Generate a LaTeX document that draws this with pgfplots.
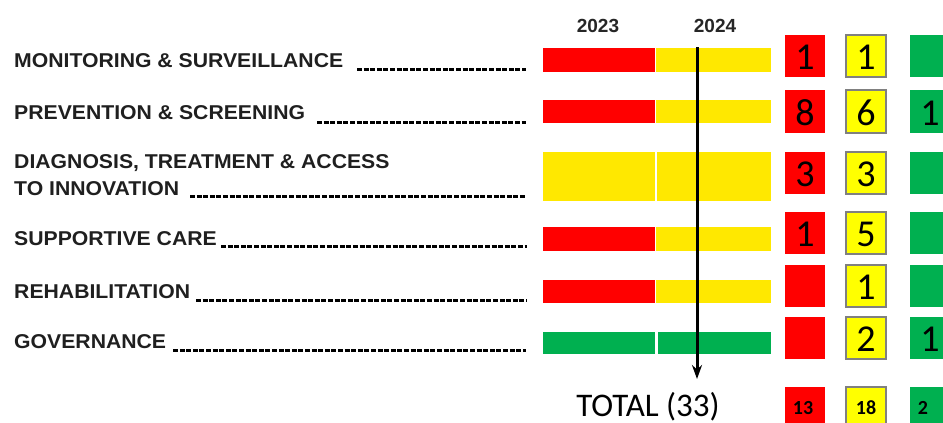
\documentclass[border=0pt]{standalone}
\usepackage{pgfplots}
\pgfplotsset{compat=1.18}
\usetikzlibrary{arrows.meta}
\usepackage{fontspec}
\setmainfont{Liberation Sans}
\newfontfamily\calib{Carlito}
\definecolor{cred}{HTML}{FF0000}
\definecolor{cbar}{HTML}{FFE800}
\definecolor{cyel}{HTML}{FFFF00}
\definecolor{cgrn}{HTML}{00B050}
\newcommand{\lab}[1]{\scalebox{1.06}[1]{#1}}
\begin{document}
\begin{tikzpicture}
\begin{axis}[name=ax, scale only axis, width=943pt, height=423pt,
  xmin=0, xmax=943, ymin=0, ymax=423, y dir=reverse, hide axis, clip=false]
% headers
\node[font=\bfseries\fontsize{19}{19}\selectfont, text=black!85] at (axis cs:598,26) {2023};
\node[font=\bfseries\fontsize{19}{19}\selectfont, text=black!85] at (axis cs:715,26) {2024};
% labels
\tikzset{lb/.style={anchor=base west, inner sep=0pt, font=\bfseries\fontsize{20}{20}\selectfont, text=black!88}}
\node[lb] at (axis cs:14,67) {\lab{MONITORING \& SURVEILLANCE}};
\node[lb] at (axis cs:14,119) {\lab{PREVENTION \& SCREENING}};
\node[lb] at (axis cs:14,168) {\lab{DIAGNOSIS, TREATMENT \& ACCESS}};
\node[lb] at (axis cs:14,195) {\lab{TO INNOVATION}};
\node[lb] at (axis cs:14,245) {\lab{SUPPORTIVE CARE}};
\node[lb] at (axis cs:14,298) {\lab{REHABILITATION}};
\node[lb] at (axis cs:14,348) {\lab{GOVERNANCE}};
% leaders
\pgfplotsset{leader/.style={black, line width=3pt, dash pattern=on 5pt off 1.6pt}}
\addplot[leader] coordinates {(357,69) (526,69)};
\addplot[leader] coordinates {(317,122) (526,122)};
\addplot[leader] coordinates {(190,196) (526,196)};
\addplot[leader] coordinates {(221,246) (527,246)};
\addplot[leader] coordinates {(196,300) (527,300)};
\addplot[leader] coordinates {(173,350) (526,350)};
% bars 2023 / 2024
\addplot[fill=cred, draw=none] coordinates {(543,48) (655,48) (655,72) (543,72)} -- cycle;
\addplot[fill=cbar, draw=none] coordinates {(656,48) (771,48) (771,72) (656,72)} -- cycle;
\addplot[fill=cred, draw=none] coordinates {(543,100) (655,100) (655,123) (543,123)} -- cycle;
\addplot[fill=cbar, draw=none] coordinates {(656,100) (771,100) (771,123) (656,123)} -- cycle;
\addplot[fill=cbar, draw=none] coordinates {(543,152) (655,152) (655,201) (543,201)} -- cycle;
\addplot[fill=cbar, draw=none] coordinates {(657,152) (771,152) (771,201) (657,201)} -- cycle;
\addplot[fill=cred, draw=none] coordinates {(543,227) (655,227) (655,251) (543,251)} -- cycle;
\addplot[fill=cbar, draw=none] coordinates {(656,227) (771,227) (771,251) (656,251)} -- cycle;
\addplot[fill=cred, draw=none] coordinates {(543,280) (655,280) (655,303) (543,303)} -- cycle;
\addplot[fill=cbar, draw=none] coordinates {(656,280) (771,280) (771,303) (656,303)} -- cycle;
\addplot[fill=cgrn, draw=none] coordinates {(543,332) (655,332) (655,354) (543,354)} -- cycle;
\addplot[fill=cgrn, draw=none] coordinates {(658,332) (771,332) (771,354) (658,354)} -- cycle;
% arrow
\addplot[black, line width=3pt, -{Stealth[length=14pt, width=10pt]}] coordinates {(697,47) (697,379)};
\node[font=\calib\fontsize{33}{33}\selectfont, anchor=base] at (axis cs:648,416) {TOTAL (33)};
% squares: red column
\addplot[fill=cred, draw=none] coordinates {(785,35) (825,35) (825,77) (785,77)} -- cycle;
\addplot[fill=cred, draw=none] coordinates {(785,90) (825,90) (825,133) (785,133)} -- cycle;
\addplot[fill=cred, draw=none] coordinates {(785,152) (825,152) (825,194) (785,194)} -- cycle;
\addplot[fill=cred, draw=none] coordinates {(785,212) (825,212) (825,254) (785,254)} -- cycle;
\addplot[fill=cred, draw=none] coordinates {(785,265) (825,265) (825,307) (785,307)} -- cycle;
\addplot[fill=cred, draw=none] coordinates {(785,317) (825,317) (825,359) (785,359)} -- cycle;
\addplot[fill=cred, draw=none] coordinates {(785,387) (825,387) (825,428) (785,428)} -- cycle;
% yellow column
\pgfplotsset{ysq/.style={fill=cyel, draw=black!50, line width=1.2pt}}
\addplot[ysq] coordinates {(846,35) (886,35) (886,77) (846,77)} -- cycle;
\addplot[ysq] coordinates {(846,90) (886,90) (886,133) (846,133)} -- cycle;
\addplot[ysq] coordinates {(846,152) (886,152) (886,194) (846,194)} -- cycle;
\addplot[ysq] coordinates {(846,212) (886,212) (886,254) (846,254)} -- cycle;
\addplot[ysq] coordinates {(846,265) (886,265) (886,307) (846,307)} -- cycle;
\addplot[ysq] coordinates {(846,317) (886,317) (886,359) (846,359)} -- cycle;
\addplot[ysq] coordinates {(846,387) (886,387) (886,428) (846,428)} -- cycle;
% green column
\addplot[fill=cgrn, draw=none] coordinates {(910,35) (952,35) (952,77) (910,77)} -- cycle;
\addplot[fill=cgrn, draw=none] coordinates {(910,90) (952,90) (952,133) (910,133)} -- cycle;
\addplot[fill=cgrn, draw=none] coordinates {(910,152) (952,152) (952,194) (910,194)} -- cycle;
\addplot[fill=cgrn, draw=none] coordinates {(910,212) (952,212) (952,254) (910,254)} -- cycle;
\addplot[fill=cgrn, draw=none] coordinates {(910,265) (952,265) (952,307) (910,307)} -- cycle;
\addplot[fill=cgrn, draw=none] coordinates {(910,317) (952,317) (952,359) (910,359)} -- cycle;
\addplot[fill=cgrn, draw=none] coordinates {(910,387) (952,387) (952,428) (910,428)} -- cycle;
% numbers
\tikzset{num/.style={font=\calib\fontsize{38}{38}\selectfont, anchor=base}}
\node[num] at (axis cs:805,69) {1};
\node[num] at (axis cs:866,69) {1};
\node[num] at (axis cs:805,125) {8};
\node[num] at (axis cs:866,125) {6};
\node[num] at (axis cs:930,125) {1};
\node[num] at (axis cs:805,186) {3};
\node[num] at (axis cs:866,186) {3};
\node[num] at (axis cs:805,246) {1};
\node[num] at (axis cs:866,246) {5};
\node[num] at (axis cs:866,299) {1};
\node[num] at (axis cs:866,351) {2};
\node[num] at (axis cs:930,351) {1};
\tikzset{tot/.style={font=\calib\bfseries\fontsize{20}{20}\selectfont, anchor=base}}
\node[tot] at (axis cs:803,414) {13};
\node[tot] at (axis cs:866,414) {18};
\node[tot] at (axis cs:923,414) {2};
\end{axis}
\pgfresetboundingbox
\path (ax.south west) rectangle (ax.north east);
\end{tikzpicture}
\end{document}
